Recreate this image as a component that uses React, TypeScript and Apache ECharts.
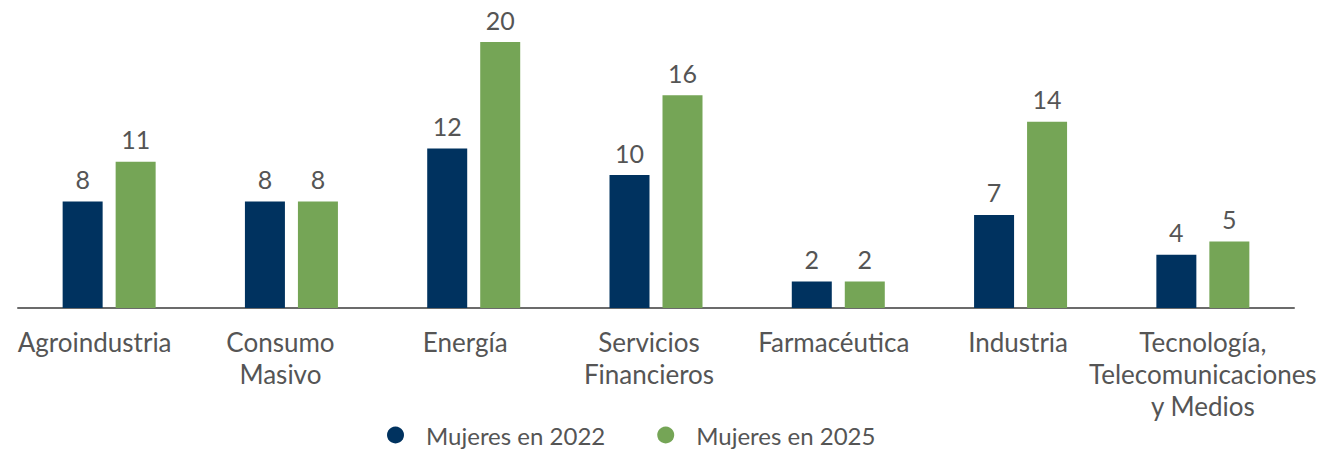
import React, { useEffect, useRef } from "react";
import * as echarts from "echarts";

const categories = [
  "Agroindustria",
  "Consumo\nMasivo",
  "Energía",
  "Servicios\nFinancieros",
  "Farmacéutica",
  "Industria",
  "Tecnología,\nTelecomunicaciones\ny Medios",
];
const mujeres2022 = [8, 8, 12, 10, 2, 7, 4];
const mujeres2025 = [11, 8, 20, 16, 2, 14, 5];

// right padding per label (shifts the centred label left by half of it)
const labelShift = [29, 22, 17, 14, 9, 5, 0];

const FONT = "Lato";
const TEXT = "#555555";

export default function App() {
  const ref = useRef<HTMLDivElement>(null);
  useEffect(() => {
    document.body.style.margin = "0";
    document.body.style.overflow = "hidden";
    if (!ref.current) return;
    const chart = echarts.init(ref.current, undefined, { renderer: "svg" });
    const label = {
      show: true,
      position: "top" as const,
      distance: 10,
      color: TEXT,
      fontFamily: FONT,
      fontSize: 25,
    };
    chart.setOption({
      animation: false,
      textStyle: { fontFamily: FONT },
      grid: { left: 18, right: 30, top: 42, bottom: 149, containLabel: false },
      legend: {
        top: 418,
        left: 382,
        icon: "circle",
        itemWidth: 17,
        itemHeight: 17,
        itemGap: 52,
        textStyle: {
          color: TEXT,
          fontFamily: FONT,
          fontSize: 24,
          padding: [0, 0, 0, 17],
        },
        data: ["Mujeres en 2022", "Mujeres en 2025"],
      },
      xAxis: {
        type: "category",
        data: categories.map((c, i) => ({
          value: c,
          textStyle: { padding: [0, labelShift[i], 0, 0] },
        })),
        axisLine: { lineStyle: { color: "#6b6b6b", width: 2 } },
        axisTick: { show: false },
        axisLabel: {
          color: TEXT,
          fontFamily: FONT,
          fontSize: 26,
          lineHeight: 32,
          margin: 18,
          interval: 0,
        },
      },
      yAxis: {
        type: "value",
        min: 0,
        max: 20,
        show: false,
        splitLine: { show: false },
      },
      series: [
        {
          name: "Mujeres en 2022",
          type: "bar",
          data: mujeres2022,
          barWidth: 40,
          barGap: "32.5%",
          itemStyle: { color: "#00325F" },
          label,
        },
        {
          name: "Mujeres en 2025",
          type: "bar",
          data: mujeres2025,
          barWidth: 40,
          itemStyle: { color: "#75A556" },
          label,
        },
      ],
    });
    return () => chart.dispose();
  }, []);
  return <div ref={ref} style={{ width: 1324, height: 457 }} />;
}
